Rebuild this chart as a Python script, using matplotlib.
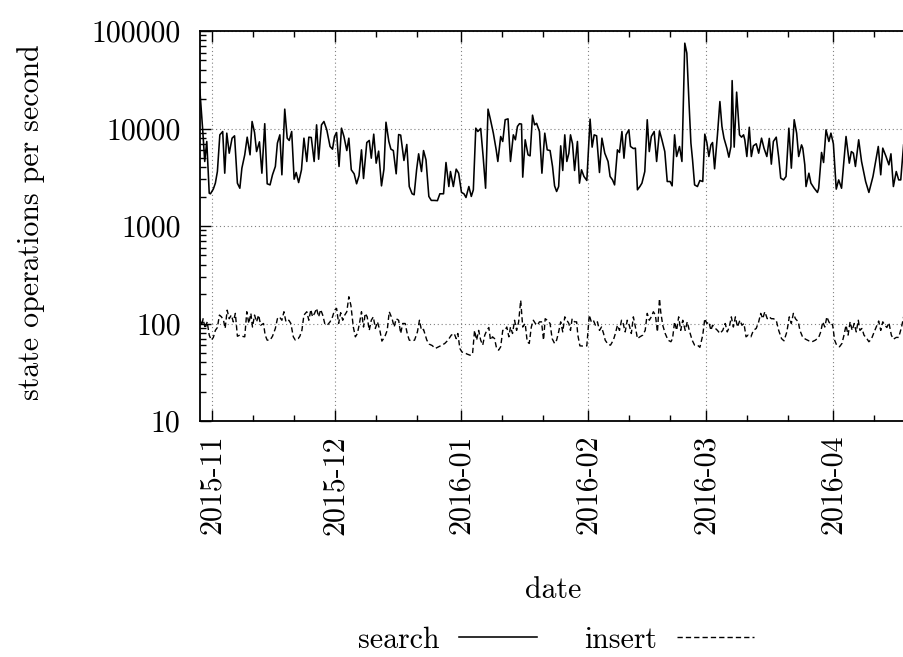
import datetime as dt

import numpy as np
import matplotlib
matplotlib.use("Agg")
import matplotlib.pyplot as plt
import matplotlib.dates as mdates
from matplotlib.ticker import LogLocator, FuncFormatter, NullFormatter

# days since 2015-11-01 and operations per second
search_day = [
    -3.1, -2.4, -1.9, -1.4, -0.8, -0.5, 0.2, 0.7, 1.2, 1.8, 2.5, 3.0, 3.5, 4.1, 4.8, 5.4,
    6.1, 6.7, 7.2, 7.9, 8.5, 9.2, 9.7, 10.3, 10.8, 11.5, 12.1, 12.8, 13.4, 14.1, 14.7, 15.4,
    15.9, 16.5, 17.0, 17.7, 18.3, 18.8, 19.4, 20.0, 20.5, 21.1, 21.8, 22.4, 23.1, 23.6, 24.2,
    24.9, 25.5, 26.0, 26.7, 27.3, 28.0, 28.8, 29.4, 29.9, 30.4, 31.0, 31.6, 32.2, 32.9, 33.4,
    34.0, 34.7, 35.3, 35.9, 36.5, 37.0, 37.8, 38.4, 38.9, 39.5, 40.1, 40.7, 41.4, 42.0, 42.5,
    43.2, 43.7, 44.3, 45.0, 45.6, 46.1, 46.9, 47.6, 48.2, 48.9, 49.4, 50.0, 50.5, 51.2, 51.7,
    52.3, 53.0, 53.6, 54.3, 55.1, 55.7, 56.6, 57.2, 57.9, 58.3, 59.0, 59.7, 60.3, 61.0, 61.6,
    62.1, 62.8, 63.4, 63.9, 64.5, 65.0, 65.7, 66.3, 66.9, 67.5, 68.1, 68.8, 69.5, 69.9, 70.6,
    71.1, 71.7, 72.4, 73.0, 73.7, 74.2, 74.7, 75.2, 75.7, 76.0, 76.6, 77.3, 77.8, 78.4, 78.9,
    79.4, 80.1, 80.7, 81.4, 82.0, 82.7, 83.3, 83.8, 84.3, 84.8, 85.3, 85.8, 86.3, 86.8, 87.3,
    87.7, 88.2, 88.7, 89.4, 89.9, 90.4, 91.0, 91.7, 92.5, 93.0, 93.5, 94.1, 94.8, 95.4, 96.1,
    96.9, 97.4, 98.0, 98.5, 99.2, 99.7, 100.3, 100.8, 101.3, 102.0, 102.4, 103.1, 103.6,
    104.1, 104.7, 105.2, 105.9, 106.5, 107.0, 107.5, 108.2, 108.8, 109.5, 110.1, 110.8,
    111.4, 112.1, 112.6, 113.2, 113.7, 114.4, 115.0, 115.7, 116.2, 116.7, 117.2, 117.6,
    118.1, 118.8, 119.4, 120.1, 120.6, 121.1, 121.6, 122.1, 122.5, 123.0, 123.7, 124.3,
    124.8, 125.3, 126.0, 126.5, 127.0, 127.3, 127.8, 128.4, 129.1, 129.6, 130.1, 130.4,
    130.9, 131.5, 132.0, 132.5, 133.2, 133.8, 134.5, 135.1, 135.8, 136.4, 136.9, 137.4,
    138.1, 138.7, 139.2, 139.9, 140.5, 141.2, 141.8, 142.5, 143.1, 143.6, 144.3, 144.6,
    145.1, 145.4, 146.1, 146.6, 147.4, 148.2, 148.5, 149.2, 149.7, 150.3, 151.0, 151.5,
    152.1, 152.8, 153.4, 154.1, 155.2, 156.0, 156.5, 157.0, 157.5, 158.3, 159.0, 160.0,
    160.8, 161.8, 163.1, 163.7, 164.2, 165.0, 165.7, 166.2, 166.8, 167.5, 168.1, 168.6, 169.3,
]
search_ops = [
    24900, 9700, 4590, 7360, 2170, 2140, 2390, 2750, 3620, 8610, 9310, 3480, 8960, 5580, 7960, 8410,
    2750, 2440, 3920, 5370, 8150, 5370, 11800, 9100, 5800, 7300, 3480, 11200, 2710, 2640, 3350, 4080,
    7080, 8610, 3350, 15800, 7960, 7540, 9310, 3020, 3540, 2790, 3770, 7960, 4590, 8150, 8090,
    4590, 10900, 4840, 10900, 11800, 9690, 6540, 6140, 8280, 9100, 4080, 10080, 8280, 5940, 7960,
    3770, 3430, 2710, 3280, 6040, 3070, 7180, 7540, 4960, 8750, 4410, 5860, 2580, 3830, 11600,
    7360, 6140, 5940, 3430, 8670, 8550, 4700, 6860, 2540, 2140, 2090, 3770, 5500, 3620, 5940,
    4770, 2010, 1830, 1830, 1820, 2140, 2140, 4480, 2540, 3620, 2540, 3830, 3480, 2210, 2140,
    1960, 2540, 2010, 2350, 10080, 9310, 10000, 5160, 2440, 15800, 12300, 8960, 6040, 4590, 8280,
    7360, 12300, 12560, 4590, 8610, 7660, 10500, 11200, 11100, 3170, 7660, 5370, 5240, 13700, 10900,
    11300, 9310, 3480, 8960, 6040, 5940, 4080, 2580, 2260, 2540, 6640, 3710, 8610, 4590, 5580,
    8610, 6970, 3710, 7360, 2750, 3770, 3220, 2930, 12470, 6440, 8610, 8410, 3540, 7960, 5580,
    4590, 3220, 2970, 2640, 6040, 5680, 9310, 4960, 8610, 9690, 6540, 6230, 6290,
    2350, 2540, 2750, 3620, 12300, 5800, 8280, 9310, 4590, 9460, 7660, 5800,
    2860, 2860, 2580, 8610, 5160, 6540, 4590, 75000, 59300, 19700, 7080, 4770,
    2640, 2540, 2930, 2860, 8750, 7180, 5160, 6790, 7180, 3860, 8610, 18900,
    10500, 7960, 6290, 5080, 6540, 31000, 6440, 23600, 8610, 8150, 8610, 7660,
    5160, 10300, 5160, 6640, 6970, 5580, 7960, 6290, 5160, 7920, 4310, 7360,
    8150, 5080, 3100, 2970, 3220, 10080, 3920, 12300, 8960, 5160, 6790, 6290,
    4240, 2540, 3480, 2750, 2440, 2210, 2440, 5680, 4480, 9690, 7360, 8960,
    6970, 2390, 2970, 2440, 8280, 4410, 5800, 5580, 4080, 7660, 4590, 2860,
    2210, 3220, 6540, 3350, 6290, 5160, 4240, 5500, 2540, 3620, 2970, 2970, 6790,
]

insert_day = [
    -3.1, -2.6, -2.3, -1.8, -1.3, -0.8, -0.3, 0.2, 0.7, 1.2, 1.7, 2.2, 2.7, 3.1, 3.6, 4.1,
    4.6, 5.1, 5.6, 6.1, 6.7, 7.2, 7.9, 8.4, 8.9, 9.4, 9.8, 10.3, 10.8, 11.3, 11.8, 12.5, 12.9,
    13.4, 14.1, 14.7, 15.4, 15.9, 16.4, 17.0, 17.5, 18.0, 18.7, 19.2, 19.8, 20.3, 21.0, 21.4,
    21.9, 22.4, 23.1, 23.6, 24.1, 24.5, 25.0, 25.5, 26.0, 26.5, 27.0, 27.5, 28.1, 28.8, 29.4,
    29.9, 30.4, 30.9, 31.4, 31.9, 32.4, 32.9, 33.4, 33.9, 34.5, 35.0, 35.5, 36.0, 36.5, 37.0,
    37.4, 37.9, 38.4, 38.9, 39.4, 39.9, 40.4, 41.0, 41.5, 42.2, 42.8, 43.3, 44.0, 44.5, 45.0,
    45.6, 46.1, 46.6, 47.2, 47.7, 48.2, 48.9, 49.5, 50.2, 50.7, 51.2, 51.7, 52.5, 53.1, 53.8,
    54.6, 55.4, 56.2, 56.9, 57.7, 58.5, 59.2, 59.7, 60.1, 60.6, 61.1, 61.8, 62.4, 63.1, 63.7,
    64.2, 64.7, 65.2, 65.7, 66.2, 66.7, 67.2, 67.7, 68.1, 68.6, 69.1, 69.6, 70.1, 70.6, 71.1,
    71.6, 72.1, 72.6, 73.0, 73.5, 74.0, 74.5, 75.0, 75.5, 76.0, 76.6, 77.1, 77.6, 78.1, 78.6,
    79.1, 79.6, 80.1, 80.6, 81.1, 81.5, 82.0, 82.7, 83.2, 83.8, 84.3, 84.8, 85.3, 85.8, 86.3,
    86.8, 87.3, 87.7, 88.1, 88.7, 89.2, 89.5, 90.0, 90.9, 91.7, 92.3, 92.8, 93.3, 93.8, 94.3,
    94.8, 95.3, 95.8, 96.2, 96.9, 97.5, 98.2, 98.7, 99.2, 99.7, 100.2, 100.6, 101.1, 101.6,
    102.1, 102.6, 103.1, 103.6, 104.1, 104.7, 105.4, 106.0, 106.5, 107.0, 107.5, 108.0, 108.5,
    109.0, 109.5, 109.8, 110.3, 110.9, 111.6, 112.3, 112.7, 113.2, 113.7, 114.2, 114.7, 115.2,
    115.8, 116.3, 116.8, 117.5, 118.1, 118.8, 119.4, 120.1, 120.6, 121.1, 121.6, 122.1, 122.5,
    123.2, 123.7, 124.3, 125.0, 125.6, 126.1, 126.6, 127.1, 127.6, 128.1, 128.6, 129.2, 129.7,
    130.2, 130.7, 131.2, 131.9, 132.5, 133.2, 133.8, 134.3, 134.8, 135.3, 135.9, 136.4, 136.9,
    137.4, 138.1, 138.7, 139.4, 140.0, 140.7, 141.3, 141.8, 142.3, 142.8, 143.5, 143.9, 144.6,
    145.3, 146.1, 146.9, 147.7, 148.5, 149.0, 149.5, 150.0, 150.5, 151.0, 151.5, 151.9, 152.4,
    152.9, 153.6, 154.2, 154.7, 155.2, 155.7, 156.2, 156.7, 157.2, 157.7, 158.2, 158.6, 159.1,
    159.6, 160.3, 160.8, 161.4, 162.1, 162.7, 163.2, 163.7, 164.2, 164.7, 165.2, 165.7, 166.3,
    166.8, 167.5, 168.1, 168.8, 169.3,
]
insert_ops = [
    112, 96, 112, 89, 104, 76, 67.5, 71.8, 85, 91, 122, 117, 108, 89, 137, 112,
    122, 104, 127, 74, 76, 74, 73, 132, 100, 127, 92, 122, 104, 122, 96, 100, 76,
    67.5, 67.5, 74, 89, 112, 117, 108, 132, 104, 108, 100, 73, 67.5, 70, 74,
    85, 122, 132, 108, 139, 117, 127, 143, 117, 139, 122, 100, 96, 104, 117,
    137, 143, 100, 129, 108, 122, 132, 188, 154, 92, 73, 79, 100, 132, 92,
    127, 117, 85, 108, 117, 89, 104, 85, 66, 73, 85, 132, 112, 92, 112,
    108, 79, 100, 100, 79, 67.5, 66.4, 67.5, 82, 108, 85, 87, 67.5, 61.4, 59.5,
    55.5, 57.7, 60, 62.4, 67.5, 76, 79, 70, 79, 55.5, 51, 50, 48.5, 47.3, 48.5,
    85, 67.5, 85, 67.5, 60, 76, 85, 91, 67.5, 73, 70, 55.5, 53.3, 57.7, 85,
    85, 92, 73, 92, 79, 108, 85, 104, 173, 92, 100, 65, 62.4, 92, 108,
    100, 96, 104, 104, 67.5, 112, 108, 100, 70, 62.4, 67.5, 82, 104, 82, 117,
    108, 100, 85, 112, 104, 104, 76, 59, 58.6, 59, 122, 104, 108, 96, 104,
    85, 92, 79, 67.5, 61, 60, 67.5, 79, 96, 85, 108, 100, 82, 108,
    96, 79, 117, 92, 70, 73, 76, 85, 127, 108, 117, 132, 122,
    82, 180, 132, 96, 79, 67.5, 65, 70, 104, 85, 117, 85, 108,
    85, 104, 85, 67.5, 60, 60, 57, 76, 112, 100, 104, 85, 96,
    89, 85, 79, 85, 100, 82, 92, 117, 92, 117, 92, 108, 96,
    100, 73, 76, 73, 85, 89, 104, 127, 112, 132, 112, 117, 112,
    112, 108, 85, 70, 66.4, 82, 117, 100, 127, 112, 104, 85, 72,
    69, 66.4, 65, 67.5, 72, 82, 104, 92, 117, 104, 96, 98, 67.5,
    60, 57.7, 62.4, 76, 96, 76, 104, 85, 100, 82, 108, 85, 89,
    76, 70, 65, 69, 82, 94, 106, 85, 104, 96, 91, 102, 76,
    69, 72, 72, 92, 117,
]

series_labels = ["search", "insert"]
y_ticks = [10, 100, 1000, 10000, 100000]

plt.rcParams["font.family"] = ["cmr10", "DejaVu Serif"]
plt.rcParams["font.size"] = 21.5
plt.rcParams["axes.unicode_minus"] = False
plt.rcParams["axes.formatter.use_mathtext"] = True

start = mdates.date2num(dt.datetime(2015, 11, 1))

fig = plt.figure(figsize=(9.04, 6.57), dpi=100)
ax = fig.add_axes([200 / 904, 1 - 421 / 657, 704 / 904, 390 / 657])

ax.plot(start + np.array(search_day), search_ops, color="black", lw=1.15,
        label=series_labels[0])
ax.plot(start + np.array(insert_day), insert_ops, color="black", lw=1.0,
        dashes=(3.8, 2.2), label=series_labels[1])

ax.set_yscale("log")
ax.set_ylim(y_ticks[0], y_ticks[-1])
ax.set_xlim(start - 3.06, start + 169.4)

ax.xaxis.set_major_locator(mdates.MonthLocator())
ax.xaxis.set_major_formatter(mdates.DateFormatter("%Y-%m"))
ax.xaxis.set_minor_locator(mdates.DayLocator(bymonthday=[11, 21]))
ax.set_yticks(y_ticks)
ax.yaxis.set_major_formatter(FuncFormatter(lambda v, p: f"{v:.0f}"))
ax.yaxis.set_minor_locator(LogLocator(base=10, subs=np.arange(2, 10), numticks=20))
ax.yaxis.set_minor_formatter(NullFormatter())

ax.tick_params(which="both", direction="in", top=True, right=False)
ax.tick_params(which="major", length=8, width=1)
ax.tick_params(which="minor", length=4, width=1)
ax.tick_params(axis="x", which="major", labelrotation=90, pad=10)
ax.tick_params(axis="y", which="major", pad=14)
ax.grid(which="major", color="gray", ls=(0, (1, 2.5)), lw=0.8)
for s in ax.spines.values():
    s.set_linewidth(1.3)
ax.spines["right"].set_visible(False)

fig.text(31 / 904, 1 - 222 / 657, "state operations per second",
         rotation=90, ha="center", va="center")
fig.text(553 / 904, 1 - 590 / 657, "date", ha="center", va="center")

fig.legend(loc="center", bbox_to_anchor=(556 / 904, 1 - 640 / 657), ncol=2,
           frameon=False, markerfirst=False, handlelength=2.6,
           handletextpad=0.67, columnspacing=1.57)

fig.savefig("out.png", dpi=100)
